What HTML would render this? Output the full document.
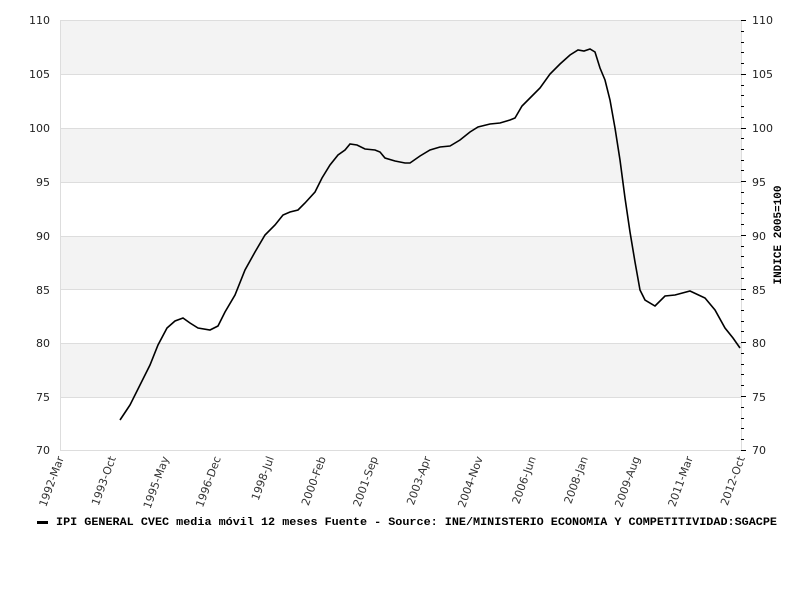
<!DOCTYPE html>
<html><head><meta charset="utf-8"><style>
html,body{margin:0;padding:0;background:#fff;}
svg{display:block;font-family:"DejaVu Sans","Liberation Sans",sans-serif;}
</style></head><body>
<svg width="800" height="600" xmlns="http://www.w3.org/2000/svg">
<rect x="0" y="0" width="800" height="600" fill="#fff"/>
<g fill="#f3f3f3">
<rect x="60" y="20" width="681" height="54"/>
<rect x="60" y="128" width="681" height="54"/>
<rect x="60" y="236" width="681" height="54"/>
<rect x="60" y="343" width="681" height="54"/>
</g>
<g stroke="#dddddd" stroke-width="1">
<line x1="60" y1="20.5" x2="741" y2="20.5"/>
<line x1="60" y1="74.5" x2="741" y2="74.5"/>
<line x1="60" y1="128.5" x2="741" y2="128.5"/>
<line x1="60" y1="182.5" x2="741" y2="182.5"/>
<line x1="60" y1="236.5" x2="741" y2="236.5"/>
<line x1="60" y1="289.5" x2="741" y2="289.5"/>
<line x1="60" y1="343.5" x2="741" y2="343.5"/>
<line x1="60" y1="397.5" x2="741" y2="397.5"/>
<line x1="60" y1="450.5" x2="741" y2="450.5"/>
<line x1="60.5" y1="20" x2="60.5" y2="450"/>
<line x1="741.5" y1="20" x2="741.5" y2="450"/>
</g>
<g stroke="#000" stroke-width="1">
<line x1="741" y1="450.5" x2="746" y2="450.5"/>
<line x1="741" y1="439.5" x2="744" y2="439.5"/>
<line x1="741" y1="428.5" x2="744" y2="428.5"/>
<line x1="741" y1="418.5" x2="744" y2="418.5"/>
<line x1="741" y1="407.5" x2="744" y2="407.5"/>
<line x1="741" y1="396.5" x2="746" y2="396.5"/>
<line x1="741" y1="385.5" x2="744" y2="385.5"/>
<line x1="741" y1="374.5" x2="744" y2="374.5"/>
<line x1="741" y1="364.5" x2="744" y2="364.5"/>
<line x1="741" y1="353.5" x2="744" y2="353.5"/>
<line x1="741" y1="342.5" x2="746" y2="342.5"/>
<line x1="741" y1="331.5" x2="744" y2="331.5"/>
<line x1="741" y1="321.5" x2="744" y2="321.5"/>
<line x1="741" y1="310.5" x2="744" y2="310.5"/>
<line x1="741" y1="299.5" x2="744" y2="299.5"/>
<line x1="741" y1="289.5" x2="746" y2="289.5"/>
<line x1="741" y1="278.5" x2="744" y2="278.5"/>
<line x1="741" y1="267.5" x2="744" y2="267.5"/>
<line x1="741" y1="256.5" x2="744" y2="256.5"/>
<line x1="741" y1="246.5" x2="744" y2="246.5"/>
<line x1="741" y1="235.5" x2="746" y2="235.5"/>
<line x1="741" y1="224.5" x2="744" y2="224.5"/>
<line x1="741" y1="213.5" x2="744" y2="213.5"/>
<line x1="741" y1="203.5" x2="744" y2="203.5"/>
<line x1="741" y1="192.5" x2="744" y2="192.5"/>
<line x1="741" y1="181.5" x2="746" y2="181.5"/>
<line x1="741" y1="170.5" x2="744" y2="170.5"/>
<line x1="741" y1="160.5" x2="744" y2="160.5"/>
<line x1="741" y1="149.5" x2="744" y2="149.5"/>
<line x1="741" y1="138.5" x2="744" y2="138.5"/>
<line x1="741" y1="128.5" x2="746" y2="128.5"/>
<line x1="741" y1="117.5" x2="744" y2="117.5"/>
<line x1="741" y1="106.5" x2="744" y2="106.5"/>
<line x1="741" y1="95.5" x2="744" y2="95.5"/>
<line x1="741" y1="85.5" x2="744" y2="85.5"/>
<line x1="741" y1="74.5" x2="746" y2="74.5"/>
<line x1="741" y1="63.5" x2="744" y2="63.5"/>
<line x1="741" y1="52.5" x2="744" y2="52.5"/>
<line x1="741" y1="42.5" x2="744" y2="42.5"/>
<line x1="741" y1="31.5" x2="744" y2="31.5"/>
<line x1="741" y1="20.5" x2="746" y2="20.5"/>
</g>
<g font-size="11" fill="#222">
<text x="50" y="24" text-anchor="end">110</text>
<text x="50" y="78" text-anchor="end">105</text>
<text x="50" y="132" text-anchor="end">100</text>
<text x="50" y="186" text-anchor="end">95</text>
<text x="50" y="240" text-anchor="end">90</text>
<text x="50" y="294" text-anchor="end">85</text>
<text x="50" y="347" text-anchor="end">80</text>
<text x="50" y="401" text-anchor="end">75</text>
<text x="50" y="454" text-anchor="end">70</text>
<text x="752" y="24">110</text>
<text x="752" y="78">105</text>
<text x="752" y="132">100</text>
<text x="752" y="186">95</text>
<text x="752" y="240">90</text>
<text x="752" y="294">85</text>
<text x="752" y="347">80</text>
<text x="752" y="401">75</text>
<text x="752" y="454">70</text>
</g>
<text transform="translate(781,235) rotate(-90)" text-anchor="middle" font-family="'Liberation Mono',monospace" font-weight="bold" font-size="11">INDICE 2005=100</text>
<g font-size="11" fill="#333" text-anchor="end">
<text transform="translate(64,458) rotate(-70)">1992-Mar</text>
<text transform="translate(116,458) rotate(-70)">1993-Oct</text>
<text transform="translate(169,458) rotate(-70)">1995-May</text>
<text transform="translate(221,458) rotate(-70)">1996-Dec</text>
<text transform="translate(274,458) rotate(-70)">1998-Jul</text>
<text transform="translate(326,458) rotate(-70)">2000-Feb</text>
<text transform="translate(378,458) rotate(-70)">2001-Sep</text>
<text transform="translate(431,458) rotate(-70)">2003-Apr</text>
<text transform="translate(483,458) rotate(-70)">2004-Nov</text>
<text transform="translate(536,458) rotate(-70)">2006-Jun</text>
<text transform="translate(588,458) rotate(-70)">2008-Jan</text>
<text transform="translate(640,458) rotate(-70)">2009-Aug</text>
<text transform="translate(693,458) rotate(-70)">2011-Mar</text>
<text transform="translate(745,458) rotate(-70)">2012-Oct</text>
</g>
<polyline fill="none" stroke="#000" stroke-width="1.6" points="120,420 130,405 140,385 150,365 158,345 167,328 175,321 183,318 190,323 198,328 210,330 218,326 225,312 235,295 245,270 255,252 265,235 275,225 283,215 290,212 298,210 305,203 315,192 322,178 330,165 338,155 345,150 350,144 357,145 365,149 375,150 380,152 385,158 395,161 405,163 410,163 420,156 430,150 440,147 450,146 460,140 470,132 478,127 490,124 500,123 510,120 515,118 522,106 530,98 540,88 550,74 560,64 570,55 578,50 584,51 590,49 595,52 600,68 605,80 610,100 615,128 620,160 625,198 630,232 635,262 640,290 645,300 655,306 665,296 675,295 690,291 705,298 715,310 725,328 733,338 740,348"/>
<rect x="37" y="521" width="11" height="3" fill="#000"/>
<text x="56" y="525" font-family="'Liberation Mono',monospace" font-weight="bold" font-size="11" textLength="721" lengthAdjust="spacingAndGlyphs">IPI GENERAL CVEC media móvil 12 meses  Fuente - Source: INE/MINISTERIO ECONOMIA Y COMPETITIVIDAD:SGACPE</text>
</svg>
</body></html>
